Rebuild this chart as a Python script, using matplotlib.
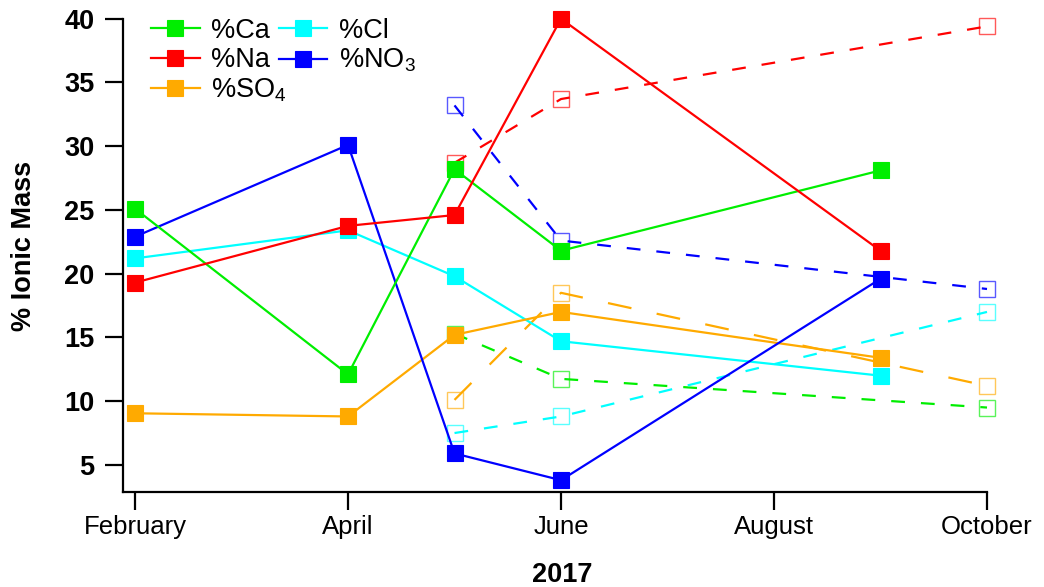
import numpy as np
import matplotlib
matplotlib.use("Agg")
import matplotlib.pyplot as plt

plt.rcParams['font.family'] = ['Liberation Sans', 'DejaVu Sans']
plt.rcParams['mathtext.fontset'] = 'custom'
plt.rcParams['mathtext.rm'] = 'Liberation Sans'
plt.rcParams['mathtext.it'] = 'Liberation Sans'

# months as numbers (Feb=2 ... Oct=10)
months_solid = [2, 4, 5, 6, 9]
months_dash = [5, 6, 10]
tick_months = [2, 4, 6, 8, 10]
tick_labels = ["February", "April", "June", "August", "October"]

# solid series (filled squares)
ca = [25.1, 12.1, 28.2, 21.8, 28.1]
na = [19.3, 23.75, 24.6, 40.0, 21.8]
cl = [21.2, 23.4, 19.8, 14.7, 12.0]
no3 = [22.9, 30.1, 5.9, 3.8, 19.6]
so4 = [9.05, 8.8, 15.2, 17.0, 13.4]

# dashed series (open squares)
ca_d = [15.3, 11.75, 9.5]
na_d = [28.7, 33.7, 39.4]
cl_d = [7.5, 8.8, 17.0]
no3_d = [33.2, 22.6, 18.8]
so4_d = [10.1, 18.5, 11.2]

c_ca = '#00ee00'
c_na = '#ff0000'
c_cl = '#00ffff'
c_no3 = '#0000ff'
c_so4 = '#ffaa00'

fig = plt.figure(figsize=(10.44, 5.87), dpi=100)
ax = fig.add_axes([0.1178, 0.1624, 0.8276, 0.8057])

# dashed first, underneath
dashed = [(ca_d, c_ca, (6.2, 7.2)), (na_d, c_na, (6.2, 7.2)),
          (cl_d, c_cl, (6.2, 7.2)), (no3_d, c_no3, (6.2, 7.2)),
          (so4_d, c_so4, (10.8, 11.6))]
for vals, col, dash in dashed:
    ln, = ax.plot(months_dash, vals, color=col, lw=1.6, marker='s', ms=11,
                  mfc='none', mec=matplotlib.colors.to_rgba(col, 0.65), mew=1.0,
                  clip_on=False)
    ln.set_dashes(dash)

solid = [("%Cl", cl, c_cl), ("%SO$_4$", so4, c_so4), ("%NO$_3$", no3, c_no3),
         ("%Ca", ca, c_ca), ("%Na", na, c_na)]
handles = {}
for lab, vals, col in solid:
    ln, = ax.plot(months_solid, vals, color=col, lw=1.6, marker='s', ms=11,
                  mfc=col, mec=col, mew=0.8, label=lab, clip_on=False)
    handles[lab] = ln

order = ["%Ca", "%Na", "%SO$_4$", "%Cl", "%NO$_3$"]
ax.legend([handles[k] for k in order], order, loc='upper left',
          bbox_to_anchor=(0.02, 1.025), ncol=2, frameon=False, fontsize=19.5,
          handlelength=1.8, handletextpad=0.42, columnspacing=-0.3,
          labelspacing=0.12, borderaxespad=0)

ax.set_xlim(1.887, 10)
ax.set_ylim(2.9, 40)
ax.set_xticks(tick_months)
ax.set_xticklabels(tick_labels)
ax.set_yticks(np.arange(5, 41, 5))
for sp in ['top', 'right']:
    ax.spines[sp].set_visible(False)
for sp in ['left', 'bottom']:
    ax.spines[sp].set_linewidth(1.6)
ax.tick_params(axis='both', length=13, width=1.6, direction='out')
ax.tick_params(axis='x', labelsize=18.5, pad=4)
ax.tick_params(axis='y', labelsize=19.5, pad=7.5)
for t in ax.get_yticklabels():
    t.set_fontweight('bold')

ax.set_ylabel("% Ionic Mass", fontsize=19.5, fontweight='bold')
ax.yaxis.set_label_coords(-0.099, 0.52)
ax.set_xlabel("2017", fontsize=19.5, fontweight='bold')
ax.xaxis.set_label_coords(0.508, -0.148)

fig.savefig("out.png", dpi=100)
